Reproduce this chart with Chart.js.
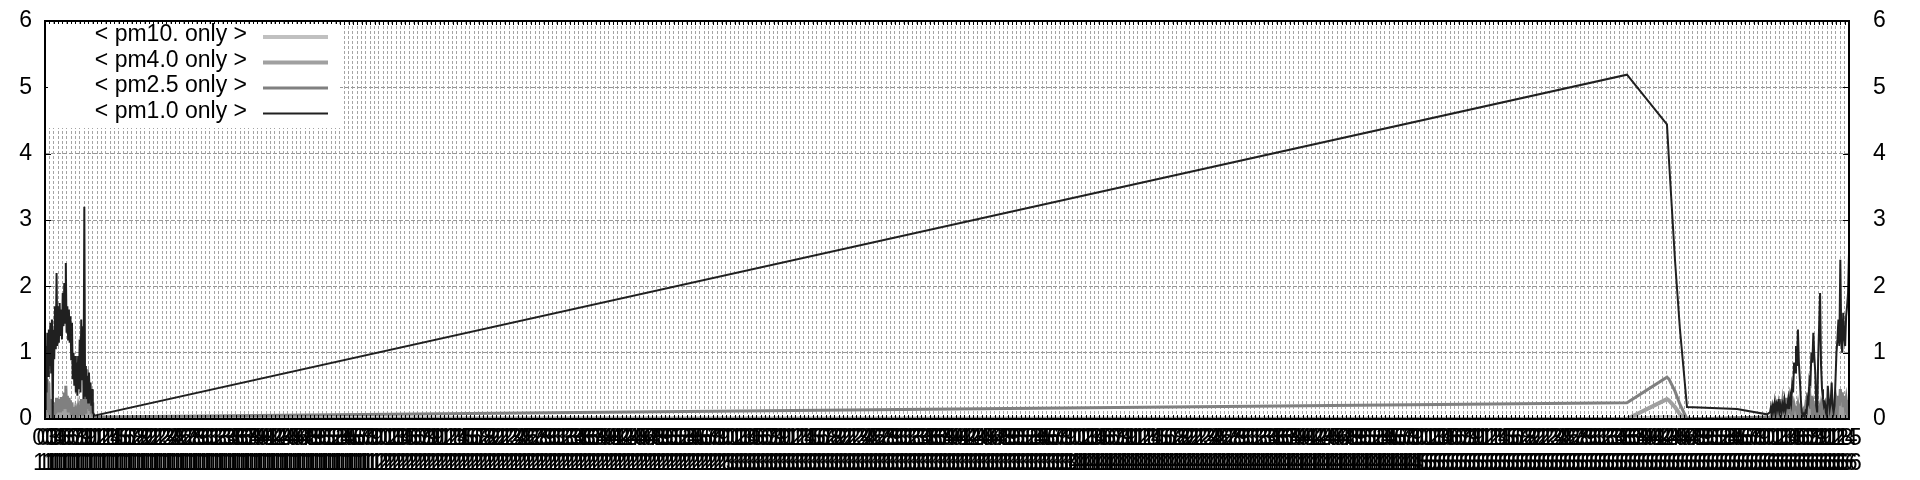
<!DOCTYPE html>
<html>
<head>
<meta charset="utf-8">
<script src="https://cdn.jsdelivr.net/npm/chart.js@4/dist/chart.umd.min.js"></script>
<style>
  body { margin: 0; background: #fff; }
  canvas { display: block; }
</style>
</head>
<body>
<canvas id="chart" width="1920" height="480"></canvas>
<script>
"use strict";

// x positions, seconds after the first sample
const seconds = [
  0, 8, 16, 24, 32, 40, 48, 56, 64, 72,
  80, 88, 96, 104, 112, 120, 128, 136, 144, 152,
  160, 168, 176, 184, 192, 200, 208, 216, 224, 232,
  240, 248, 256, 264, 272, 280, 288, 296, 304, 312,
  320, 328, 336, 344, 352, 360, 368, 376, 384, 392,
  400, 408, 416, 424, 432, 440, 448, 456, 464, 472,
  480, 488, 496, 504, 512,
  16416, 16831, 16852, 16914, 16966, 17039, 17558, 17869,
  17900, 17910, 17920, 17930, 17940, 17950, 17960, 17970, 17980, 17990,
  18000, 18010, 18020, 18030, 18040, 18050, 18060, 18070, 18080, 18090,
  18100, 18110, 18120, 18130, 18140, 18150, 18160, 18170, 18180, 18190,
  18200, 18210, 18220, 18230, 18240, 18250, 18260, 18270, 18280, 18290,
  18300, 18310, 18320, 18330, 18340, 18350, 18360, 18370, 18380, 18390,
  18400, 18410, 18420, 18430, 18440, 18450, 18460, 18470, 18480, 18490,
  18500, 18510, 18520, 18530, 18540, 18550, 18560, 18570, 18580, 18590,
  18600, 18610, 18620, 18630, 18640, 18650, 18660, 18670, 18680, 18690,
  18700, 18710, 18720
];

const pm1 = [
  0.15, 1.10, 0.40, 1.30, 0.65, 1.35, 0.80, 1.45, 0.70, 1.50,
  0.00, 1.35, 0.90, 1.70, 1.05, 2.20, 1.10, 1.70, 1.15, 1.75,
  1.25, 1.65, 1.20, 1.90, 1.40, 2.05, 1.45, 2.35, 1.30, 1.70,
  1.20, 1.65, 1.15, 1.55, 0.90, 1.45, 0.60, 1.00, 0.50, 0.95,
  0.40, 0.85, 0.35, 0.95, 0.45, 1.20, 0.40, 1.50, 0.60, 1.40,
  0.30, 3.20, 0.35, 0.80, 0.30, 0.65, 0.25, 0.70, 0.30, 0.55,
  0.20, 0.45, 0.10, 0.08, 0.05,
  5.19, 4.44, 3.90, 2.40, 1.35, 0.18, 0.15, 0.07,
  0.10, 0.18, 0.08, 0.20, 0.12, 0.25, 0.10, 0.22, 0.15, 0.30,
  0.12, 0.20, 0.10, 0.22, 0.15, 0.28, 0.12, 0.20, 0.18, 0.30,
  0.15, 0.35, 0.25, 0.50, 0.40, 0.85, 0.70, 1.10, 0.80, 1.35,
  0.85, 0.60, 0.30, 0.10, 0.05, 0.08, 0.04, 0.12, 0.10, 0.30,
  0.25, 0.60, 0.55, 1.00, 0.85, 1.30, 0.95, 0.70, 0.20, 0.10,
  0.90, 1.40, 1.90, 0.80, 0.45, 0.30, 0.20, 0.25, 0.10, 0.05,
  0.50, 0.30, 0.15, 0.25, 0.55, 0.20, 0.10, 0.20, 0.60, 1.00,
  1.20, 1.50, 1.10, 2.40, 1.20, 1.00, 1.60, 1.25, 1.10, 1.55,
  1.70, 1.90, 2.50
];

const pm25 = [
  0.05, 0.45, 0.10, 0.60, 0.15, 0.55, 0.05, 0.30, 0.02, 0.20,
  0.00, 0.15, 0.05, 0.25, 0.08, 0.32, 0.10, 0.30, 0.12, 0.28,
  0.10, 0.33, 0.12, 0.30, 0.15, 0.40, 0.18, 0.50, 0.15, 0.35,
  0.12, 0.32, 0.10, 0.28, 0.08, 0.25, 0.05, 0.18, 0.04, 0.12,
  0.03, 0.10, 0.02, 0.15, 0.05, 0.22, 0.06, 0.30, 0.08, 0.28,
  0.05, 0.40, 0.10, 0.55, 0.15, 0.75, 0.20, 0.55, 0.12, 0.40,
  0.08, 0.25, 0.05, 0.04, 0.03,
  0.245, 0.63, 0.60, 0.42, 0.22, 0.00, 0.02, 0.03,
  0.02, 0.05, 0.03, 0.08, 0.05, 0.12, 0.06, 0.15, 0.08, 0.20,
  0.10, 0.30, 0.12, 0.25, 0.10, 0.28, 0.15, 0.32, 0.12, 0.22,
  0.08, 0.25, 0.12, 0.20, 0.10, 0.22, 0.15, 0.18, 0.10, 0.20,
  0.08, 0.15, 0.05, 0.10, 0.04, 0.12, 0.08, 0.20, 0.15, 0.40,
  0.20, 0.48, 0.15, 0.35, 0.10, 0.20, 0.08, 0.15, 0.05, 0.12,
  0.06, 0.15, 0.05, 0.18, 0.08, 0.12, 0.05, 0.15, 0.06, 0.10,
  0.05, 0.18, 0.08, 0.15, 0.05, 0.20, 0.10, 0.15, 0.08, 0.25,
  0.15, 0.35, 0.20, 0.45, 0.25, 0.40, 0.18, 0.35, 0.20, 0.30,
  0.15, 0.25, 0.28
];

const pm4 = [
  0.03, 0.12, 0.04, 0.18, 0.06, 0.15, 0.02, 0.08, 0.01, 0.05,
  0.00, 0.04, 0.02, 0.07, 0.03, 0.10, 0.04, 0.09, 0.05, 0.08,
  0.03, 0.10, 0.04, 0.09, 0.05, 0.12, 0.06, 0.15, 0.05, 0.10,
  0.04, 0.09, 0.03, 0.08, 0.02, 0.07, 0.02, 0.05, 0.01, 0.04,
  0.01, 0.03, 0.01, 0.05, 0.02, 0.07, 0.02, 0.09, 0.03, 0.08,
  0.02, 0.12, 0.04, 0.16, 0.05, 0.22, 0.06, 0.16, 0.04, 0.12,
  0.03, 0.07, 0.02, 0.01, 0.01,
  0.00, 0.30, 0.28, 0.18, 0.07, 0.00, 0.00, 0.01,
  0.01, 0.02, 0.01, 0.03, 0.02, 0.05, 0.02, 0.06, 0.03, 0.08,
  0.04, 0.12, 0.05, 0.10, 0.04, 0.11, 0.05, 0.13, 0.05, 0.09,
  0.03, 0.10, 0.05, 0.08, 0.04, 0.09, 0.06, 0.07, 0.04, 0.08,
  0.03, 0.06, 0.02, 0.04, 0.02, 0.05, 0.03, 0.08, 0.06, 0.16,
  0.08, 0.20, 0.06, 0.14, 0.04, 0.08, 0.03, 0.06, 0.02, 0.05,
  0.02, 0.06, 0.02, 0.07, 0.03, 0.05, 0.02, 0.06, 0.02, 0.04,
  0.02, 0.07, 0.03, 0.06, 0.02, 0.08, 0.04, 0.06, 0.03, 0.10,
  0.06, 0.14, 0.08, 0.18, 0.10, 0.16, 0.07, 0.14, 0.08, 0.12,
  0.06, 0.10, 0.11
];

const pm10 = [
  0.01, 0.04, 0.01, 0.06, 0.02, 0.05, 0.01, 0.03, 0.00, 0.02,
  0.00, 0.02, 0.01, 0.03, 0.01, 0.04, 0.01, 0.03, 0.02, 0.03,
  0.01, 0.04, 0.01, 0.03, 0.02, 0.04, 0.02, 0.05, 0.02, 0.04,
  0.01, 0.03, 0.01, 0.03, 0.01, 0.02, 0.01, 0.02, 0.00, 0.01,
  0.00, 0.01, 0.00, 0.02, 0.01, 0.02, 0.01, 0.03, 0.01, 0.03,
  0.01, 0.04, 0.01, 0.05, 0.02, 0.07, 0.02, 0.05, 0.01, 0.04,
  0.01, 0.02, 0.01, 0.00, 0.00,
  0.00, 0.03, 0.03, 0.02, 0.01, 0.00, 0.00, 0.00,
  0.00, 0.01, 0.00, 0.01, 0.01, 0.02, 0.01, 0.02, 0.01, 0.03,
  0.01, 0.04, 0.02, 0.03, 0.01, 0.04, 0.02, 0.04, 0.02, 0.03,
  0.01, 0.03, 0.02, 0.03, 0.01, 0.03, 0.02, 0.02, 0.01, 0.03,
  0.01, 0.02, 0.01, 0.01, 0.01, 0.02, 0.01, 0.03, 0.02, 0.05,
  0.03, 0.06, 0.02, 0.05, 0.01, 0.03, 0.01, 0.02, 0.01, 0.02,
  0.01, 0.02, 0.01, 0.02, 0.01, 0.02, 0.01, 0.02, 0.01, 0.01,
  0.01, 0.02, 0.01, 0.02, 0.01, 0.03, 0.01, 0.02, 0.01, 0.03,
  0.02, 0.05, 0.03, 0.06, 0.03, 0.05, 0.02, 0.05, 0.03, 0.04,
  0.02, 0.03, 0.04
];

const seriesNames = ["< pm10. only >", "< pm4.0 only >", "< pm2.5 only >", "< pm1.0 only >"];
const yTicks = [0, 1, 2, 3, 4, 5, 6];

const startSec = 11 * 3600 + 3 * 60; // 11:03:00
const tickStepSec = 45;
const xMaxSec = 18720;

const font = "'Liberation Sans', Arial, sans-serif";

function pts(values) {
  return values.map((v, i) => ({ x: seconds[i], y: v }));
}

function pad(n) {
  return String(n).padStart(2, "0");
}

function xLabel(value) {
  const t = startSec + value;
  return [pad(Math.floor(t / 60) % 60), pad(Math.floor(t / 3600) % 24)];
}

// y label padding must not push the plot area down
function fitY(width) {
  return (s) => {
    s.width = width;
    s.paddingTop = 0;
    s.paddingBottom = 0;
  };
}

const frame = {
  id: "frame",
  afterDatasetsDraw(chart) {
    const { ctx, chartArea: a, scales } = chart;
    ctx.save();
    ctx.strokeStyle = "#000";
    ctx.lineWidth = 1;
    ctx.beginPath();
    scales.x.ticks.forEach((t) => {
      const px = Math.round(scales.x.getPixelForValue(t.value)) + 0.5;
      ctx.moveTo(px, a.bottom);
      ctx.lineTo(px, a.bottom - 4);
      ctx.moveTo(px, a.top);
      ctx.lineTo(px, a.top + 4);
    });
    scales.y.ticks.forEach((t) => {
      const py = Math.round(scales.y.getPixelForValue(t.value)) + 0.5;
      ctx.moveTo(a.left, py);
      ctx.lineTo(a.left + 6, py);
      ctx.moveTo(a.right, py);
      ctx.lineTo(a.right - 6, py);
    });
    ctx.stroke();
    ctx.lineWidth = 2;
    ctx.strokeRect(a.left, a.top, a.right - a.left, a.bottom - a.top);
    ctx.restore();
  }
};

// gnuplot style key: text on the left, line sample on the right
const key = {
  id: "key",
  afterDraw(chart) {
    const { ctx, chartArea: a } = chart;
    const sets = chart.data.datasets;
    ctx.save();
    ctx.fillStyle = "#fff";
    ctx.fillRect(a.left + 3, a.top + 3, 292, 104);
    ctx.font = "23px " + font;
    ctx.textAlign = "right";
    ctx.textBaseline = "middle";
    for (let i = 0; i < sets.length; i++) {
      const y = a.top + 14 + i * 25.5;
      ctx.fillStyle = "#000";
      ctx.fillText(sets[i].label, a.left + 202, y);
      ctx.strokeStyle = sets[i].borderColor;
      ctx.lineWidth = sets[i].borderWidth;
      ctx.beginPath();
      ctx.moveTo(a.left + 218, y + 2);
      ctx.lineTo(a.left + 283, y + 2);
      ctx.stroke();
    }
    ctx.restore();
  }
};

const colors = ["#c0c0c0", "#a0a0a0", "#808080", "#202020"];
const widths = [4, 4, 3, 2];
const allValues = [pm10, pm4, pm25, pm1];

const datasets = [];
for (let i = 0; i < seriesNames.length; i++) {
  datasets.push({
    label: seriesNames[i],
    data: pts(allValues[i]),
    borderColor: colors[i],
    backgroundColor: colors[i],
    borderWidth: widths[i],
    pointRadius: 0,
    tension: 0,
    fill: false,
    order: seriesNames.length - i,
    yAxisID: "y"
  });
}

new Chart(document.getElementById("chart"), {
  type: "line",
  data: { datasets: datasets },
  options: {
    responsive: false,
    animation: false,
    devicePixelRatio: 1,
    layout: { padding: { top: 21, left: 0, right: 0, bottom: 0 } },
    plugins: { legend: { display: false }, tooltip: { enabled: false } },
    scales: {
      x: {
        type: "linear",
        min: 0,
        max: xMaxSec,
        afterFit: (s) => { s.height = 61; },
        grid: { color: "#a4a4a4", lineWidth: 1, drawTicks: false },
        border: { display: false, dash: [3, 2] },
        ticks: {
          stepSize: tickStepSec,
          autoSkip: false,
          maxRotation: 0,
          minRotation: 0,
          padding: 7,
          color: "#000",
          font: { family: font, size: 23, lineHeight: 1.1 },
          callback: (v) => xLabel(v)
        }
      },
      y: {
        position: "left",
        min: 0,
        max: 6,
        afterFit: fitY(45),
        afterBuildTicks: (s) => { s.ticks = yTicks.map((v) => ({ value: v })); },
        grid: { color: "#999", lineWidth: 1, drawTicks: false },
        border: { display: false, dash: [4, 2] },
        ticks: { padding: 13, color: "#000", font: { family: font, size: 23 } }
      },
      y2: {
        position: "right",
        min: 0,
        max: 6,
        afterFit: fitY(71),
        afterBuildTicks: (s) => { s.ticks = yTicks.map((v) => ({ value: v })); },
        grid: { display: false, drawOnChartArea: false },
        border: { display: false },
        ticks: { padding: 16, color: "#000", font: { family: font, size: 23 } }
      }
    }
  },
  plugins: [frame, key]
});
</script>
</body>
</html>
